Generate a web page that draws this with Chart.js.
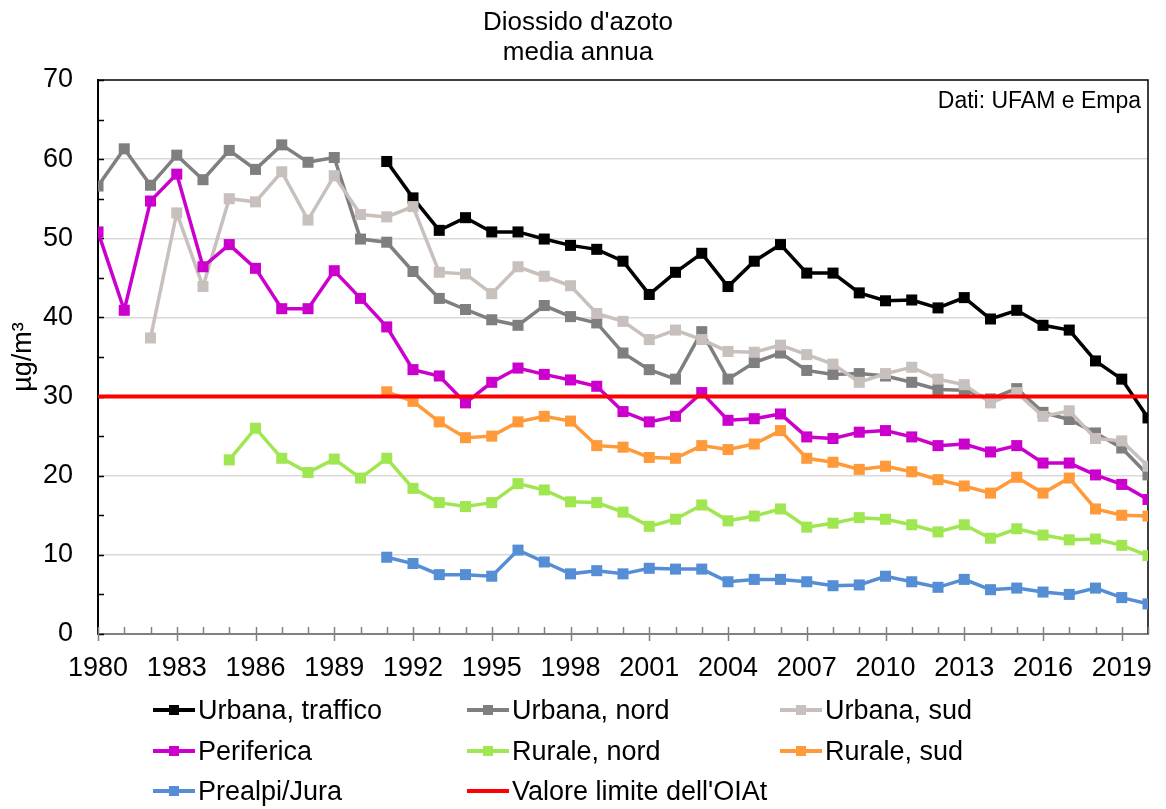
<!DOCTYPE html>
<html>
<head>
<meta charset="utf-8">
<script src="https://cdn.jsdelivr.net/npm/chart.js@4.4.1/dist/chart.umd.min.js"></script>
<style>
  body { margin: 0; background: #fff; }
  #wrap { position: relative; width: 1166px; height: 809px; }
  #legend { position: absolute; left: 0; top: 0; width: 1166px; height: 809px; pointer-events: none;
    font-family: "Liberation Sans", Arial, sans-serif; font-size: 27px; color: #000; }
  .item { position: absolute; display: flex; align-items: center; height: 32px; white-space: nowrap; }
  .swatch { position: relative; width: 42px; height: 4px; margin-right: 3px; }
  .swatch i { position: absolute; left: 16px; top: -3px; width: 10px; height: 10px; }
</style>
</head>
<body>
<div id="wrap">
  <canvas id="no2Chart" width="1166" height="809"></canvas>
  <div id="legend"></div>
</div>
<script>
// valori, µg/m³
const years = [1980, 1981, 1982, 1983, 1984, 1985, 1986, 1987, 1988, 1989,
  1990, 1991, 1992, 1993, 1994, 1995, 1996, 1997, 1998, 1999,
  2000, 2001, 2002, 2003, 2004, 2005, 2006, 2007, 2008, 2009,
  2010, 2011, 2012, 2013, 2014, 2015, 2016, 2017, 2018, 2019, 2020]

const urbanaTrafficoStart = 1991
const urbanaTraffico = [59.7, 55.1, 51.0, 52.6, 50.8, 50.8, 49.9, 49.1, 48.6, 47.1,
  42.9, 45.7, 48.1, 43.9, 47.1, 49.2, 45.6, 45.6, 43.1, 42.1,
  42.2, 41.2, 42.5, 39.8, 40.9, 39.0, 38.4, 34.5, 32.2, 27.3]

const urbanaNordStart = 1980
const urbanaNord = [56.6, 61.3, 56.7, 60.5, 57.4, 61.1, 58.7, 61.8, 59.6, 60.2,
  49.9, 49.5, 45.8, 42.4, 41.0, 39.7, 39.0, 41.5, 40.1, 39.3,
  35.5, 33.4, 32.2, 38.2, 32.2, 34.3, 35.5, 33.3, 32.8, 32.9,
  32.6, 31.8, 30.9, 30.8, 29.7, 31.0, 28.0, 27.1, 25.4, 23.5, 20.1]

const urbanaSudStart = 1982
const urbanaSud = [37.4, 53.2, 43.9, 55.0, 54.6, 58.4, 52.3, 57.9,
  53.0, 52.7, 54.0, 45.7, 45.5, 43.0, 46.4, 45.2, 44.0, 40.5,
  39.5, 37.2, 38.4, 37.2, 35.7, 35.6, 36.5, 35.3, 34.1, 31.8,
  32.9, 33.7, 32.2, 31.5, 29.2, 30.5, 27.5, 28.2, 24.7, 24.4, 21.2]

const perifericaStart = 1980
const periferica = [50.8, 40.9, 54.7, 58.1, 46.4, 49.2, 46.2, 41.1, 41.1, 45.9,
  42.4, 38.8, 33.4, 32.6, 29.2, 31.8, 33.6, 32.8, 32.1, 31.3,
  28.1, 26.8, 27.5, 30.5, 27.0, 27.2, 27.8, 24.9, 24.7, 25.5,
  25.7, 24.9, 23.8, 24.0, 23.0, 23.8, 21.6, 21.6, 20.1, 18.9, 17.0]

const ruraleNordStart = 1985
const ruraleNord = [22.0, 26.0, 22.2, 20.4, 22.1,
  19.7, 22.2, 18.4, 16.6, 16.1, 16.6, 19.0, 18.2, 16.7, 16.6,
  15.4, 13.6, 14.5, 16.3, 14.3, 14.9, 15.8, 13.5, 14.0, 14.7,
  14.5, 13.8, 12.9, 13.8, 12.1, 13.3, 12.5, 11.9, 12.0, 11.2, 9.9]

const ruraleSudStart = 1991
const ruraleSud = [30.6, 29.4, 26.8, 24.8, 25.0, 26.8, 27.5, 26.9, 23.8,
  23.6, 22.3, 22.2, 23.8, 23.3, 24.0, 25.7, 22.2, 21.7, 20.8,
  21.2, 20.5, 19.5, 18.7, 17.8, 19.8, 17.8, 19.7, 15.8, 15.0, 14.9]

const prealpiStart = 1991
const prealpi = [9.7, 8.9, 7.5, 7.5, 7.3, 10.6, 9.1, 7.6, 8.0,
  7.6, 8.3, 8.2, 8.2, 6.6, 6.9, 6.9, 6.6, 6.1, 6.2,
  7.3, 6.6, 5.9, 6.9, 5.6, 5.8, 5.3, 5.0, 5.8, 4.6, 3.8]

const limitValue = 30
const yTicks = [0, 10, 20, 30, 40, 50, 60, 70]

const FONT = '"Liberation Sans", Arial, sans-serif'

function toPoints(start, values) {
  return values.map((v, i) => ({ x: start + i, y: v }))
}

function series(label, start, values, color) {
  return {
    label: label,
    data: toPoints(start, values),
    borderColor: color,
    backgroundColor: color,
    borderWidth: 3.5,
    pointStyle: "rect",
    pointRadius: 7.8,
    pointHoverRadius: 7.8,
    pointBorderWidth: 0,
    pointBackgroundColor: color,
    tension: 0,
  }
}

const datasets = [
  series("Urbana, traffico", urbanaTrafficoStart, urbanaTraffico, "#000000"),
  series("Urbana, nord", urbanaNordStart, urbanaNord, "#7f7f7f"),
  series("Urbana, sud", urbanaSudStart, urbanaSud, "#c8c0bd"),
  series("Periferica", perifericaStart, periferica, "#cc00cc"),
  series("Rurale, nord", ruraleNordStart, ruraleNord, "#a0e650"),
  series("Rurale, sud", ruraleSudStart, ruraleSud, "#ff9a3a"),
  series("Prealpi/Jura", prealpiStart, prealpi, "#558ed5"),
  {
    label: "Valore limite dell'OIAt",
    data: [{ x: years[0], y: limitValue }, { x: years[years.length - 1], y: limitValue }],
    borderColor: "#ff0000",
    backgroundColor: "#ff0000",
    borderWidth: 4,
    pointRadius: 0,
    noMarker: true,
  },
]
// later series on top, like the original
datasets.forEach((d, i) => { d.order = datasets.length - i })

// frame, inward ticks and source note
const framePlugin = {
  id: "framePlugin",
  beforeDatasetsDraw(chart) {
    const { ctx, chartArea: a, scales } = chart
    const x = scales.x, y = scales.y
    ctx.save()
    ctx.strokeStyle = "#000"
    ctx.lineWidth = 1.5
    ctx.beginPath()
    ctx.moveTo(a.left, a.top)
    ctx.lineTo(a.right, a.top)
    ctx.lineTo(a.right, a.bottom)
    ctx.stroke()

    ctx.beginPath()
    for (let v = 0; v <= 70; v += 5) {
      const py = Math.round(y.getPixelForValue(v)) + 0.5
      ctx.moveTo(a.left, py)
      ctx.lineTo(a.left + 6, py)
    }
    ctx.stroke()

    ctx.strokeStyle = "#808080"
    ctx.beginPath()
    years.forEach((yr) => {
      const px = Math.round(x.getPixelForValue(yr)) + 0.5
      const major = (yr - years[0]) % 3 === 0
      ctx.moveTo(px, a.bottom - 7)
      ctx.lineTo(px, major ? a.bottom + 7 : a.bottom)
    })
    ctx.stroke()
    ctx.restore()
  },
  afterDraw(chart) {
    const { ctx, chartArea: a } = chart
    ctx.save()
    ctx.font = "23px " + FONT
    ctx.fillStyle = "#000"
    ctx.textAlign = "right"
    ctx.textBaseline = "middle"
    ctx.fillText("Dati: UFAM e Empa", a.right - 7, a.top + 22)
    ctx.restore()
  },
}

const ctx = document.getElementById("no2Chart").getContext("2d")
const chart = new Chart(ctx, {
  type: "line",
  data: { datasets: datasets },
  plugins: [framePlugin],
  options: {
    responsive: false,
    animation: false,
    layout: { padding: { left: 0, right: 10, top: 0, bottom: 125 } },
    plugins: {
      legend: { display: false },
      tooltip: { enabled: false },
      title: {
        display: true,
        text: ["Diossido d'azoto", "media annua"],
        color: "#000",
        font: { family: FONT, size: 26, weight: "normal", lineHeight: 1.18 },
        padding: { top: 7, bottom: 11.6 },
      },
    },
    scales: {
      x: {
        type: "linear",
        min: years[0],
        max: years[years.length - 1],
        afterFit: (scale) => { scale.height = 50 },
        ticks: {
          stepSize: 1,
          autoSkip: false,
          maxRotation: 0,
          padding: 18,
          color: "#000",
          font: { family: FONT, size: 27 },
          callback: (v) => ((v - years[0]) % 3 === 0 ? String(v) : ""),
        },
        grid: { display: false, drawTicks: false },
        border: { color: "#808080", width: 2 },
      },
      y: {
        min: yTicks[0],
        max: yTicks[yTicks.length - 1],
        afterFit: (scale) => { scale.width = 98 },
        afterBuildTicks: (scale) => { scale.ticks = yTicks.map((v) => ({ value: v })) },
        ticks: {
          padding: 25,
          color: "#000",
          font: { family: FONT, size: 27 },
        },
        grid: {
          drawTicks: false,
          lineWidth: 1.5,
          color: (c) => (c.tick && (c.tick.value === 0 || c.tick.value === 70) ? "rgba(0,0,0,0)" : "#d9d9d9"),
        },
        border: { color: "#000", width: 2 },
        title: {
          display: true,
          text: "µg/m³",
          color: "#000",
          font: { family: FONT, size: 27 },
          padding: { top: 7, bottom: 0 },
        },
      },
    },
  },
})

// legend in three columns
const legendCols = [153, 467, 780]
const legendRows = [710, 751, 791]
const legendBox = document.getElementById("legend")
chart.data.datasets.forEach((d, i) => {
  const item = document.createElement("div")
  item.className = "item"
  item.style.left = legendCols[i % 3] + "px"
  item.style.top = legendRows[Math.floor(i / 3)] - 16 + "px"
  const sw = document.createElement("span")
  sw.className = "swatch"
  sw.style.background = d.borderColor
  if (!d.noMarker) {
    const m = document.createElement("i")
    m.style.background = d.borderColor
    sw.appendChild(m)
  }
  item.appendChild(sw)
  item.appendChild(document.createTextNode(d.label))
  legendBox.appendChild(item)
})
</script>
</body>
</html>
